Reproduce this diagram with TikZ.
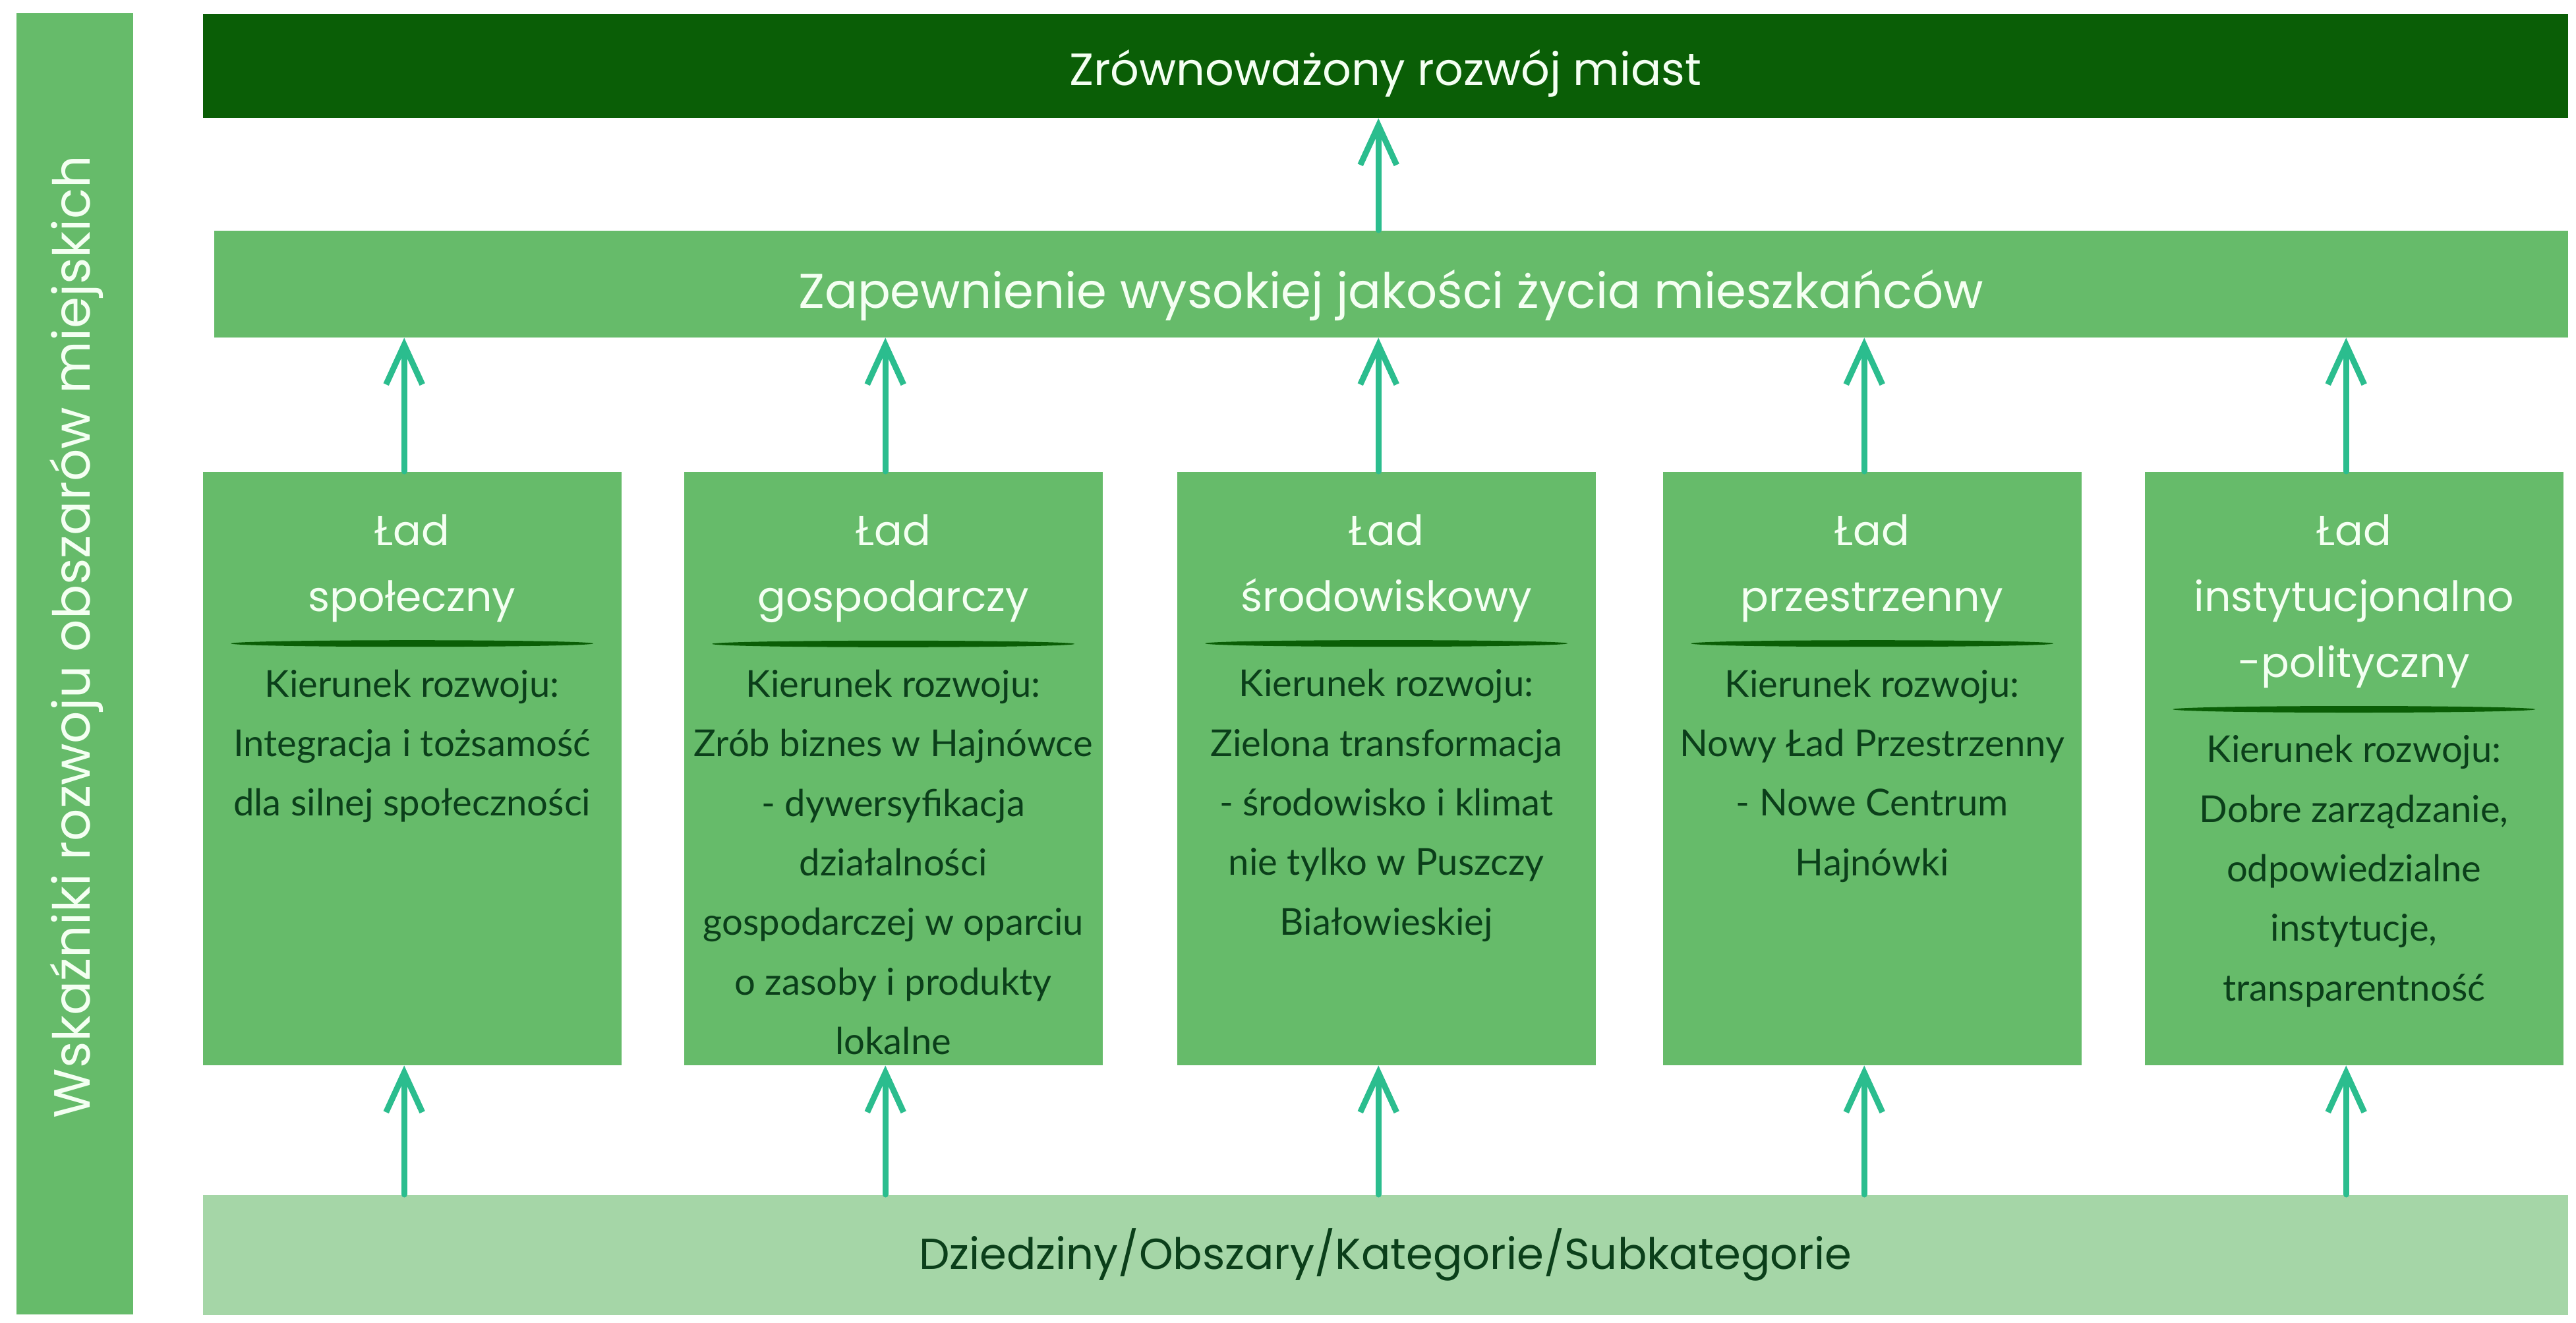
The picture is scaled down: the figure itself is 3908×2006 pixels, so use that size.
\documentclass[tikz,border=0pt]{standalone}
\usepackage{fontspec}
\setmainfont{Lato}
\newfontfamily\headfont{Poppins}
\usetikzlibrary{positioning, arrows.meta, shapes.geometric}

\definecolor{goalgreen}{HTML}{0A5E06}
\definecolor{boxgreen}{HTML}{66BB6A}
\definecolor{basegreen}{HTML}{A5D6A7}
\definecolor{arrowteal}{HTML}{2BBD8E}
\definecolor{inkgreen}{HTML}{0B3F1A}
\definecolor{paper}{HTML}{F4FFF2}

\begin{document}
\begin{tikzpicture}[x=0.1mm, y=-0.1mm,
        every node/.style = {inner sep=0, align=center},
        goalbar/.style = {anchor=north west, fill=goalgreen, text=paper,
            minimum width=358.8mm, minimum height=15.8mm,
            text height=6mm, text depth=0mm,
            font=\headfont\fontsize{19.5}{23}\selectfont},
        lifebar/.style = {anchor=north west, fill=boxgreen, text=paper,
            minimum width=357.1mm, minimum height=16.2mm,
            text height=7.4mm, text depth=0mm,
            font=\headfont\fontsize{21}{25}\selectfont},
        basebar/.style = {anchor=north west, fill=basegreen, text=inkgreen,
            minimum width=358.8mm, minimum height=18.2mm,
            font=\headfont\fontsize{18.7}{22}\selectfont},
        ladbox/.style = {anchor=north west, fill=boxgreen,
            minimum width=63.5mm, minimum height=90mm},
        ladhead/.style = {text=paper, below=6.5mm of #1.north,
            font=\headfont\fontsize{18}{28.4}\selectfont},
        ladrule/.style = {ellipse, fill=goalgreen, below=2.6mm of #1.south,
            minimum width=55mm, minimum height=1mm},
        ladbody/.style = {text=inkgreen, below=3.3mm of #1.south,
            font=\fontsize{16}{25.7}\selectfont},
        uparrow/.style = {draw=arrowteal, line width=0.9mm, line cap=round,
            -{Straight Barb[length=6mm, width=5.5mm]}}]
        \fill[white] (0,0) rectangle (3908,2006);
        \useasboundingbox (0,0) rectangle (3908,2006);

        \node [fill=boxgreen, minimum width=17.7mm, minimum height=197.4mm] (side) at (113.5,1007) {};
        \node [rotate=90, text=paper, font=\headfont\fontsize{22}{26}\selectfont] (sidetext) at (116,966)
            {Wskaźniki rozwoju obszarów miejskich};

        \node [goalbar] (goal) at (307,20) {Zrównoważony rozwój miast};
        \node [lifebar] (life) at (324,349) {Zapewnienie wysokiej jakości życia mieszkańców};
        \node [basebar] (base) at (307,1812) {Dziedziny/Obszary/Kategorie/Subkategorie};

        \node [ladbox] (lad1) at (307,715) {};
        \node [ladbox] (lad2) at (1037,715) {};
        \node [ladbox] (lad3) at (1785,715) {};
        \node [ladbox] (lad4) at (2522,715) {};
        \node [ladbox] (lad5) at (3253,715) {};

        \node [ladhead=lad1] (head1) {Ład\\społeczny};
        \node [ladhead=lad2] (head2) {Ład\\gospodarczy};
        \node [ladhead=lad3] (head3) {Ład\\środowiskowy};
        \node [ladhead=lad4] (head4) {Ład\\przestrzenny};
        \node [ladhead=lad5] (head5) {Ład\\instytucjonalno\\-polityczny};

        \node [ladrule=head1] (rule1) {};
        \node [ladrule=head2] (rule2) {};
        \node [ladrule=head3] (rule3) {};
        \node [ladrule=head4] (rule4) {};
        \node [ladrule=head5] (rule5) {};

        \node [ladbody=rule1] (dir1) {Kierunek rozwoju:\\Integracja i tożsamość\\dla silnej społeczności};
        \node [ladbody=rule2] (dir2) {Kierunek rozwoju:\\Zrób biznes w Hajnówce\\- dywersyfikacja\\działalności\\gospodarczej w oparciu\\o zasoby i produkty\\lokalne};
        \node [ladbody=rule3] (dir3) {Kierunek rozwoju:\\Zielona transformacja\\- środowisko i klimat\\nie tylko w Puszczy\\Białowieskiej};
        \node [ladbody=rule4] (dir4) {Kierunek rozwoju:\\Nowy Ład Przestrzenny\\- Nowe Centrum\\Hajnówki};
        \node [ladbody=rule5] (dir5) {Kierunek rozwoju:\\Dobre zarządzanie,\\odpowiedzialne\\instytucje,\\transparentność};

        \foreach \i in {1,...,5} {
            \draw [uparrow] ([xshift=-1.2mm]lad\i.north) -- ([xshift=-1.2mm]lad\i.north |- life.south);
            \draw [uparrow] ([xshift=-1.2mm]lad\i.south |- base.north) -- ([xshift=-1.2mm]lad\i.south);
        }
        \draw [uparrow] ([xshift=-1.2mm]life.north -| lad3.north) -- ([xshift=-1.2mm]goal.south -| lad3.north);
\end{tikzpicture}
\end{document}
